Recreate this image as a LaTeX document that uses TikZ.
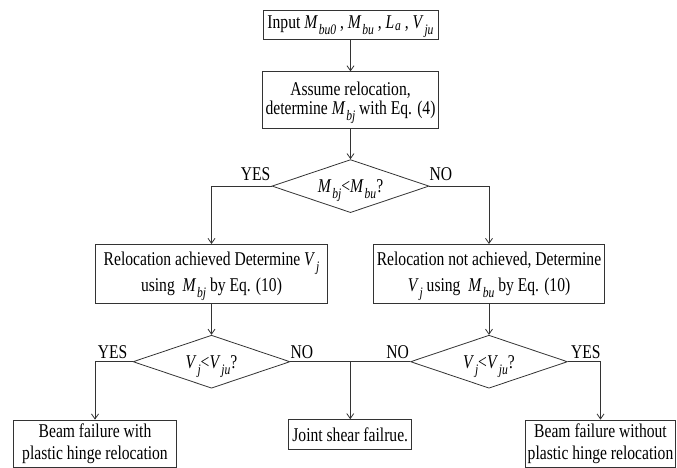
\documentclass[tikz,border=0pt]{standalone}
\usepackage{fontspec}
\setmainfont[FakeStretch=0.8]{Liberation Serif}
\usetikzlibrary{positioning,shapes.geometric,arrows.meta}
\newcommand{\var}[3][6pt]{\textit{#2}\kern0.8pt\raisebox{-#1}[0pt][0pt]{\fontsize{14.5}{14.5}\selectfont\textit{#3}}}

\begin{document}
\begin{tikzpicture}[x=1pt,y=1pt,
  font=\fontsize{19.5}{19}\selectfont,
  block/.style={draw=black!80, line width=0.8pt, rectangle, align=center, inner xsep=2pt, inner ysep=0pt},
  decision/.style={draw=black!80, line width=0.8pt, diamond, aspect=3, inner sep=0pt, minimum width=157pt, minimum height=53pt},
  tag/.style={inner sep=0pt},
  flow/.style={draw=black!80, line width=0.8pt},
  >={Straight Barb[length=5pt,width=7pt]}]
\useasboundingbox (0,0) rectangle (677,-467);

\node[block, minimum width=175pt, minimum height=29pt](0) at (350.5,-24.5){Input \var{M}{bu0} , \var{M}{bu} , \var[2pt]{L}{a} , \var{V}{ju}};
\node[block, minimum width=176pt, minimum height=57pt](1)[below=32pt of 0]{Assume relocation,\\determine \var{M}{bj} with Eq. (4)};
\node[decision](2)[below=30pt of 1]{\var{M}{bj}<\var{M}{bu}?};
\node[block, minimum width=232pt, minimum height=59pt](3)[below=31pt of 2, xshift=-139pt]{Relocation achieved Determine \var{V}{j}\\[7pt]using \ \var{M}{bj} by Eq. (10)};
\node[block, minimum width=231pt, minimum height=59pt](4)[below=31pt of 2, xshift=138.5pt]{Relocation not achieved, Determine\\[7pt]\var{V}{j} using \ \var{M}{bu} by Eq. (10)};
\node[decision](5)[below=31pt of 3]{\var{V}{j}<\var{V}{ju}?};
\node[decision](6)[below=31pt of 4]{\var{V}{j}<\var{V}{ju}?};
\path (5.east) -- (6.west) coordinate[midway](m);
\node[block, minimum width=163pt, minimum height=47pt](7)[below=31pt of 5, xshift=-116.5pt]{Beam failure with\\[2.5pt]plastic hinge relocation};
\node[block, minimum width=123pt, minimum height=30pt](8)[below=57.5pt of m]{Joint shear failrue.};
\node[block, minimum width=149pt, minimum height=47pt](9)[below=31pt of 6, xshift=111.5pt]{Beam failure without\\[2.5pt]plastic hinge relocation};

% branch labels
\node[tag](y2)[above left=5pt and 1pt of 2.west]{YES};
\node[tag](n2)[above right=5pt and 0pt of 2.east]{NO};
\node[tag](y5)[above left=3pt and 5pt of 5.west]{YES};
\node[tag](n5)[above right=3pt and 0pt of 5.east]{NO};
\node[tag](n6)[above left=3pt and 1pt of 6.west]{NO};
\node[tag](y6)[above right=3pt and 3pt of 6.east]{YES};

\path[flow,->]
(0) edge (1)
(1) edge (2)
(3) edge (5)
(4) edge (6);
\draw[flow,->] (2.west) -| (3.north);
\draw[flow,->] (2.east) -| (4.north);
\draw[flow,->] (5.west) -| (7.north);
\draw[flow,->] (6.east) -| (9.north);
\draw[flow] (5.east) -- (6.west);
\draw[flow,->] (m) -- (8.north);

\end{tikzpicture}
\end{document}
